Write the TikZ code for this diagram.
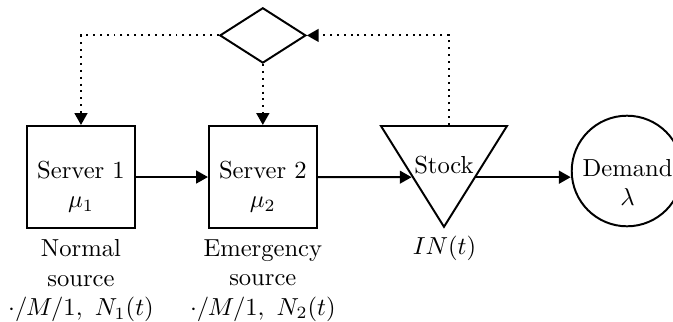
\documentclass[tikz,border=0pt]{standalone}
\usepackage{xcolor}
\definecolor{Black}{RGB}{0,0,0}
\definecolor{White}{RGB}{255,255,255}
\usetikzlibrary{shapes.geometric, arrows.meta}

\begin{document}
\begin{tikzpicture}[
		block/.style={draw=Black, line width=0.8pt, minimum width=15.4mm, minimum height=14.6mm, inner sep=0pt},
		flow/.style={-{Triangle[length=4.8pt, width=5.2pt]}, draw=Black, line width=0.8pt},
		signal/.style={flow, dotted},
		txt/.style={align=center, inner sep=0pt, color=Black}
	]
		\useasboundingbox (0mm,0mm) rectangle (96.15mm,45.86mm);
		
		% Servers
		\node[block] (srv1) at (11.57mm, 20.57mm) {};
		\node[block] (srv2) at (37.55mm, 20.57mm) {};
		
		% Stock
		\node[isosceles triangle, isosceles triangle stretches, shape border rotate=270, draw=Black, line width=0.8pt, minimum width=18mm, minimum height=14.4mm, inner sep=0pt, anchor=lower side] (stock) at (63.43mm, 28.0mm) {};
		
		% Demand
		\node[circle, draw=Black, line width=0.8pt, minimum size=15.8mm, inner sep=0pt] (dem) at (89.58mm, 21.43mm) {};
		
		% Order decision
		\node[diamond, draw=Black, line width=0.8pt, minimum width=12.3mm, minimum height=7.9mm, inner sep=0pt] (dec) at (37.55mm, 40.8mm) {};
		
		% Texts inside the shapes
		\node[txt, anchor=north] (srv1txt) at (11.57mm, 22.97mm) {Server 1\\$\mu_1$};
		\node[txt, anchor=north] (srv2txt) at (37.55mm, 22.97mm) {Server 2\\$\mu_2$};
		\node[txt, anchor=base] (stocktxt) at (63.43mm, 21.14mm) {Stock};
		\node[txt, anchor=north] (demtxt) at (89.65mm, 23.2mm) {Demand\\$\lambda$};
		
		% Captions
		\node[txt, anchor=north] (cap1) at (11.57mm, 11.71mm) {Normal\\source\\$\cdot/M/1,\ N_1(t)$};
		\node[txt, anchor=north] (cap2) at (37.55mm, 11.71mm) {Emergency\\source\\$\cdot/M/1,\ N_2(t)$};
		\node[txt, anchor=base] (cap3) at (63.5mm, 9.57mm) {$IN(t)$};
		
		% Material flow
		\draw[flow] (srv1) -- (srv2);
		\draw[flow] (srv2) -- (stock.right side);
		\draw[flow] (stock.left side) -- (stock.left side -| dem.west);
		
		% Information flow
		\draw[signal] (dec.west) -| (srv1.north);
		\draw[signal] (dec) -- (srv2);
		\draw[signal] ([xshift=2pt]stock.lower side) |- (dec.east);
		
	\end{tikzpicture}
\end{document}
